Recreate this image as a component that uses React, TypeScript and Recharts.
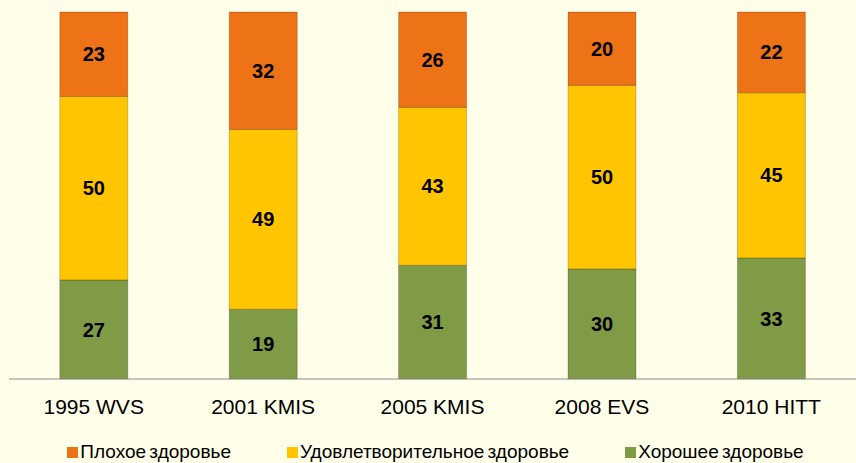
import React from 'react';
import { BarChart, Bar, XAxis, YAxis, Legend, LabelList } from 'recharts';

const surveys = ['1995 WVS', '2001 KMIS', '2005 KMIS', '2008 EVS', '2010 HITT'];
const goodHealth = [27, 19, 31, 30, 33];
const fairHealth = [50, 49, 43, 50, 45];
const poorHealth = [23, 32, 26, 20, 22];

const seriesNames = {
  poor: 'Плохое здоровье',
  fair: 'Удовлетворительное здоровье',
  good: 'Хорошее здоровье',
};

const colors = { poor: '#EE7216', fair: '#FFC600', good: '#7F9B45' };

const data = surveys.map((name, i) => ({
  name,
  idx: i + 0.5,
  good: goodHealth[i],
  fair: fairHealth[i],
  poor: poorHealth[i],
}));

const FONT = '"Liberation Sans", Arial, sans-serif';

const LegendBox = () => {
  const items: Array<keyof typeof seriesNames> = ['poor', 'fair', 'good'];
  return (
    <div style={{ display: 'flex', justifyContent: 'center', fontFamily: FONT, fontSize: 19, color: '#000', paddingLeft: 6, paddingTop: 13 }}>
      {items.map((k, i) => (
        <div key={k} style={{ display: 'flex', alignItems: 'center', marginLeft: i === 0 ? 0 : 56 }}>
          <span style={{ width: 11, height: 11, background: colors[k], marginRight: 2, display: 'inline-block' }} />
          <span style={{ wordSpacing: -2 }}>{seriesNames[k]}</span>
        </div>
      ))}
    </div>
  );
};

const labelProps = { position: 'center' as const, fill: '#000', fontSize: 20, fontWeight: 'bold', fontFamily: FONT };

const App: React.FC = () => {
  return (
    <div style={{ position: 'absolute', left: 0, top: 0, width: 856, height: 463, background: '#FEFEE9', overflow: 'hidden' }}>
      <BarChart width={856} height={463} data={data} margin={{ top: 12, right: 0, left: 9, bottom: 0 }} barCategoryGap="30%">
        <XAxis
          xAxisId="a"
          type="number"
          dataKey="idx"
          domain={[0, 5]}
          ticks={[0, 1, 2, 3, 4, 5]}
          tick={false}
          tickSize={6}
          height={1}
          stroke="#8C8C8C"
        />
        <XAxis
          xAxisId="b"
          dataKey="name"
          axisLine={false}
          tickLine={false}
          height={48}
          tick={{ fontSize: 21, fill: '#000', fontFamily: FONT }}
          dy={11}
        />
        <YAxis hide domain={[0, 100]} />
        <Legend verticalAlign="bottom" content={<LegendBox />} wrapperStyle={{ height: 35 }} />
        <Bar xAxisId="b" dataKey="good" stackId="s" fill={colors.good} stroke="rgba(0,0,0,0.2)" isAnimationActive={false} name={seriesNames.good}>
          <LabelList dataKey="good" {...labelProps} />
        </Bar>
        <Bar xAxisId="b" dataKey="fair" stackId="s" fill={colors.fair} stroke="rgba(0,0,0,0.2)" isAnimationActive={false} name={seriesNames.fair}>
          <LabelList dataKey="fair" {...labelProps} />
        </Bar>
        <Bar xAxisId="b" dataKey="poor" stackId="s" fill={colors.poor} stroke="rgba(0,0,0,0.2)" isAnimationActive={false} name={seriesNames.poor}>
          <LabelList dataKey="poor" {...labelProps} />
        </Bar>
      </BarChart>
    </div>
  );
};

export default App;
